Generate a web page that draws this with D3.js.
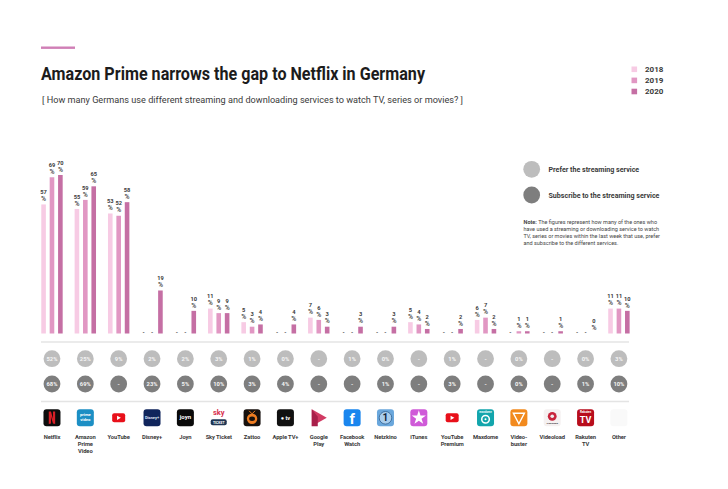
<!DOCTYPE html>
<html>
<head>
<meta charset="utf-8">
<script src="https://cdn.jsdelivr.net/npm/d3@7"></script>
<style>
  html, body { margin: 0; padding: 0; background: #fff; }
  svg { display: block; }
  text { font-family: Roboto, "Open Sans", sans-serif; }
</style>
</head>
<body>
<div id="chart"></div>
<script>
var services = ["Netflix", "Amazon Prime Video", "YouTube", "Disney+", "Joyn", "Sky Ticket", "Zattoo", "Apple TV+",
  "Google Play", "Facebook Watch", "Netzkino", "iTunes", "YouTube Premium", "Maxdome", "Video-buster", "Videoload", "Rakuten TV", "Other"];

// label lines under the icons
var serviceLabels = [["Netflix"], ["Amazon", "Prime", "Video"], ["YouTube"], ["Disney+"], ["Joyn"], ["Sky Ticket"], ["Zattoo"], ["Apple TV+"],
  ["Google", "Play"], ["Facebook", "Watch"], ["Netzkino"], ["iTunes"], ["YouTube", "Premium"], ["Maxdome"], ["Video-", "buster"], ["Videoload"], ["Rakuten", "TV"], ["Other"]];

var years = ["2018", "2019", "2020"];

var values2018 = [57, 55, 53, null, null, 11, 5, null, 7, null, null, 5, null, 6, null, null, null, 11];
var values2019 = [69, 59, 52, null, null, 9, 3, null, 6, null, null, 4, null, 7, 1, null, null, 11];
var values2020 = [70, 65, 58, 19, 10, 9, 4, 4, 3, 3, 3, 2, 2, 2, 1, 1, 0, 10];

var prefer = ["52%", "25%", "9%", "2%", "2%", "3%", "1%", "0%", "-", "1%", "0%", "-", "1%", "-", "0%", "-", "0%", "3%"];
var subscribe = ["68%", "69%", "-", "23%", "5%", "10%", "3%", "4%", "-", "-", "1%", "-", "3%", "-", "0%", "-", "1%", "10%"];

var yearColors = ["#f7cbe4", "#e197c3", "#c56fa4"];
var preferColor = "#bdbdbd";
var subscribeColor = "#7e7e7e";
var textColor = "#3a3a3a";

var svg = d3.select("#chart").append("svg")
  .attr("width", 728)
  .attr("height", 489);

var xScale = d3.scaleBand().domain(services).range([35.3, 635.6]);
var xMid = function(name) { return xScale(name) + xScale.bandwidth() / 2; };
var yearScale = d3.scalePoint().domain(years).range([-8.4, 8.4]);
var yScale = d3.scaleLinear().domain([0, 70]).range([333.5, 175]);
var colors = d3.scaleOrdinal().domain(years).range(yearColors);

var barWidth = 4.6;

// header
svg.append("rect").attr("x", 41).attr("y", 46.5).attr("width", 34).attr("height", 2.4).attr("fill", "#d07fb6");

svg.append("text")
  .attr("x", 41).attr("y", 79.5)
  .attr("font-size", 17.6).attr("font-weight", 700).attr("fill", "#1c1c1c")
  .attr("textLength", 384).attr("lengthAdjust", "spacingAndGlyphs")
  .text("Amazon Prime narrows the gap to Netflix in Germany");

svg.append("text")
  .attr("x", 42).attr("y", 103)
  .attr("font-size", 9.6).attr("fill", "#3a3a3a")
  .attr("textLength", 421).attr("lengthAdjust", "spacingAndGlyphs")
  .text("[ How many Germans use different streaming and downloading services to watch TV, series or movies? ]");

// year legend
var legendY = d3.scalePoint().domain(years).range([69.3, 91.5]);
var legend = svg.append("g").selectAll("g").data(years).enter().append("g");
legend.append("rect")
  .attr("x", 631.5)
  .attr("y", function(d) { return legendY(d) - 2.8; })
  .attr("width", 5.6).attr("height", 5.6)
  .attr("fill", function(d) { return colors(d); });
legend.append("text")
  .attr("x", 645)
  .attr("y", function(d) { return legendY(d) + 2.8; })
  .attr("font-size", 8).attr("font-weight", 700).attr("fill", textColor)
  .text(function(d) { return d; });

// bars
var seriesByYear = [values2018, values2019, values2020];
var barData = [];
services.forEach(function(name, i) {
  years.forEach(function(year, j) {
    barData.push({ name: name, year: year, value: seriesByYear[j][i] });
  });
});

var bars = svg.append("g").selectAll("g").data(barData).enter().append("g")
  .attr("transform", function(d) { return "translate(" + (xMid(d.name) + yearScale(d.year)) + ",0)"; });

bars.filter(function(d) { return d.value !== null; }).append("rect")
  .attr("x", -barWidth / 2)
  .attr("y", function(d) { return yScale(d.value); })
  .attr("width", barWidth)
  .attr("height", function(d) { return yScale(0) - yScale(d.value); })
  .attr("fill", function(d) { return colors(d.year); });

var labelled = bars.filter(function(d) { return d.value !== null; });
labelled.append("text")
  .attr("y", function(d) { return yScale(d.value) - 10.3; })
  .attr("text-anchor", "middle")
  .attr("font-size", 5.7).attr("font-weight", 700).attr("fill", textColor)
  .text(function(d) { return d.value; });
labelled.append("text")
  .attr("y", function(d) { return yScale(d.value) - 3.3; })
  .attr("text-anchor", "middle")
  .attr("font-size", 6.8).attr("font-weight", 500).attr("fill", textColor)
  .text("%");

bars.filter(function(d) { return d.value === null; }).append("text")
  .attr("y", yScale(0))
  .attr("text-anchor", "middle")
  .attr("font-size", 5.6).attr("font-weight", 700).attr("fill", textColor)
  .text("-");

// rules
[342, 401.5].forEach(function(y) {
  svg.append("line")
    .attr("x1", 41).attr("x2", 629).attr("y1", y).attr("y2", y)
    .attr("stroke", "#e4e4e4").attr("stroke-width", 1.4);
});

// circle rows
var drawCircles = function(rowData, y, color) {
  var row = svg.append("g").selectAll("g").data(rowData).enter().append("g")
    .attr("transform", function(d, i) { return "translate(" + xMid(services[i]) + "," + y + ")"; });
  row.append("circle").attr("r", 8.4).attr("fill", color);
  row.append("text")
    .attr("y", 2.1)
    .attr("text-anchor", "middle")
    .attr("font-size", 5.8).attr("font-weight", 700).attr("fill", "#f4f4f4")
    .text(function(d) { return d; });
};
drawCircles(prefer, 358.7, preferColor);
drawCircles(subscribe, 384, subscribeColor);

// circle legend
var circleLegend = [["Prefer the streaming service", preferColor, 169.3], ["Subscribe to the streaming service", subscribeColor, 195]];
circleLegend.forEach(function(d) {
  svg.append("circle").attr("cx", 531.7).attr("cy", d[2]).attr("r", 8.4).attr("fill", d[1]);
  svg.append("text")
    .attr("x", 548.5).attr("y", d[2] + 2.5)
    .attr("font-size", 7.1).attr("font-weight", 700).attr("fill", textColor)
    .text(d[0]);
});

// note
var noteLines = ["The figures represent how many of the ones who", "have used a streaming or downloading service to watch",
  "TV, series or movies within the last week that use, prefer", "and subscribe to the different services."];
noteLines.forEach(function(line, i) {
  var t = svg.append("text")
    .attr("x", 523.5).attr("y", 223.9 + i * 6.95)
    .attr("font-size", 5.5).attr("fill", "#444");
  if (i == 0) {
    t.append("tspan").attr("font-weight", 700).text("Note: ");
  }
  t.append("tspan").text(line);
});

// icons, each drawn around its own centre
var tile = function(g, fill) {
  return g.append("rect").attr("x", -8.5).attr("y", -8.5).attr("width", 17).attr("height", 17).attr("rx", 3).attr("fill", fill);
};
var tileText = function(g, str, y, size, fill) {
  return g.append("text").attr("y", y).attr("text-anchor", "middle")
    .attr("font-size", size).attr("font-weight", 700).attr("fill", fill).text(str);
};
var ytPlay = function(g) {
  g.append("rect").attr("x", -6.5).attr("y", -4.5).attr("width", 13).attr("height", 9).attr("rx", 2).attr("fill", "#e8101a");
  g.append("path").attr("d", "M-1.6,-2.1L2.2,0L-1.6,2.1Z").attr("fill", "#fff");
};

var iconDrawers = {
  "Netflix": function(g) {
    tile(g, "#0d0d0d");
    g.append("path").attr("d", "M-3.2,-6.2H-1L1,1V-6.2H3.2V6.2L1,5.6L-1,-1V5.6L-3.2,6.2Z").attr("fill", "#d81f26");
  },
  "Amazon Prime Video": function(g) {
    tile(g, "#1c8fc4");
    tileText(g, "prime", -1.5, 4.2, "#fff");
    tileText(g, "video", 3, 4.2, "#fff");
  },
  "YouTube": ytPlay,
  "Disney+": function(g) {
    tile(g, "#10255c");
    tileText(g, "Disney+", 1.5, 4, "#dfe8f7");
  },
  "Joyn": function(g) {
    tile(g, "#0a0a0a");
    tileText(g, "joyn", 1.5, 6, "#fff");
  },
  "Sky Ticket": function(g) {
    tileText(g, "sky", -2.5, 7.5, "#d8304f");
    g.append("rect").attr("x", -8).attr("y", 1.5).attr("width", 16).attr("height", 6).attr("rx", 2).attr("fill", "#1f3654");
    tileText(g, "TICKET", 6, 3.4, "#fff");
  },
  "Zattoo": function(g) {
    tile(g, "#17110e");
    g.append("circle").attr("cy", 1).attr("r", 5.2).attr("fill", "#ee7d22");
    g.append("ellipse").attr("cy", 1).attr("rx", 2.9).attr("ry", 2.2).attr("fill", "#17110e");
    g.append("path").attr("d", "M-3,-7L0,-4L3,-7").attr("fill", "none").attr("stroke", "#ee7d22").attr("stroke-width", 1);
  },
  "Apple TV+": function(g) {
    tile(g, "#111");
    tileText(g, "\u25cf tv", 1.8, 5.6, "#fff");
  },
  "Google Play": function(g) {
    g.append("path").attr("d", "M-7,-8.5L8,0L-7,8.5Z").attr("fill", "#d13a63");
    g.append("path").attr("d", "M-7,-8.5L-1,-1V8.5L-7,8.5Z").attr("fill", "#a81f4a");
  },
  "Facebook Watch": function(g) {
    tile(g, "#1a86ee");
    tileText(g, "f", 6, 15, "#fff");
  },
  "Netzkino": function(g) {
    tile(g, "#6aa7dc");
    g.append("circle").attr("r", 6.3).attr("fill", "#a9cdec").attr("stroke", "#2f5f90").attr("stroke-width", 0.8);
    tileText(g, "1", 3.5, 10, "#13263d");
  },
  "iTunes": function(g) {
    tile(g, "#cf5ad8");
    var star = d3.symbol().type(d3.symbolStar).size(62);
    g.append("path").attr("d", star()).attr("fill", "#fff");
  },
  "YouTube Premium": ytPlay,
  "Maxdome": function(g) {
    tile(g, "#12a5ac");
    g.append("circle").attr("cy", 1.5).attr("r", 3.8).attr("fill", "none").attr("stroke", "#fff").attr("stroke-width", 1.5);
    g.append("circle").attr("cy", 1.5).attr("r", 1).attr("fill", "#fff");
    tileText(g, "maxdome", -4.5, 2.8, "#e8fbfb");
  },
  "Video-buster": function(g) {
    tile(g, "#f28a1e");
    g.append("path").attr("d", "M-5.5,-4.5L5.5,-4.5L0,6Z").attr("fill", "none").attr("stroke", "#fff").attr("stroke-width", 1.4);
  },
  "Videoload": function(g) {
    tile(g, "#f5f1f1");
    g.append("circle").attr("cy", -1.5).attr("r", 4.4).attr("fill", "#c8243c");
    g.append("circle").attr("cy", -1.5).attr("r", 1.8).attr("fill", "#eee");
    tileText(g, "Videoload", 6.5, 2.5, "#333");
  },
  "Rakuten TV": function(g) {
    tile(g, "#b80d1c");
    tileText(g, "TV", 5, 9, "#fff");
    tileText(g, "Rakuten", -4.5, 3, "#fff");
  },
  "Other": function(g) {
    tile(g, "#f9f9f9");
  }
};

var iconG = svg.append("g").selectAll("g").data(services).enter().append("g")
  .attr("transform", function(d) { return "translate(" + xMid(d) + ",417.8)"; });
iconG.each(function(d) { iconDrawers[d](d3.select(this)); });

// service labels
var labelG = svg.append("g").selectAll("text").data(services).enter().append("text")
  .attr("text-anchor", "middle")
  .attr("font-size", 5.8).attr("font-weight", 700).attr("letter-spacing", -0.1).attr("fill", textColor);
labelG.selectAll("tspan")
  .data(function(d, i) { return serviceLabels[i].map(function(line) { return { name: d, line: line }; }); })
  .enter().append("tspan")
  .attr("x", function(d) { return xMid(d.name); })
  .attr("y", function(d, i) { return 439.2 + i * 7; })
  .text(function(d) { return d.line; });
</script>
</body>
</html>
